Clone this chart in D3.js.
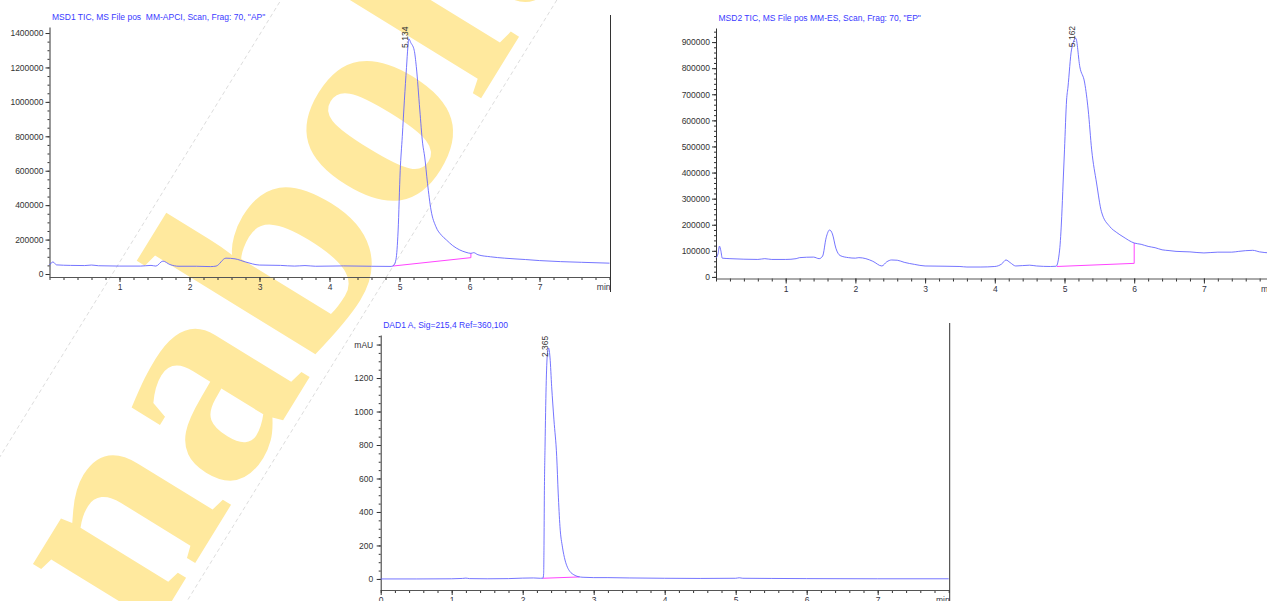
<!DOCTYPE html>
<html>
<head>
<meta charset="utf-8">
<script src="https://cdn.jsdelivr.net/npm/d3@7"></script>
<style>
  body { margin: 0; background: #fff; }
  svg { display: block; }
  text { font-family: "Liberation Sans", Arial, sans-serif; white-space: pre; }
</style>
</head>
<body>
<svg id="chart" width="1267" height="601"></svg>
<script>
// titles
const msd1Title = 'MSD1 TIC, MS File pos  MM-APCI, Scan, Frag: 70, "AP"';
const msd2Title = 'MSD2 TIC, MS File pos MM-ES, Scan, Frag: 70, "EP"';
const dadTitle = "DAD1 A, Sig=215,4 Ref=360,100";

// tick labels
const msd1YTicks = [0, 200000, 400000, 600000, 800000, 1000000, 1200000, 1400000];
const msd2YTicks = [0, 100000, 200000, 300000, 400000, 500000, 600000, 700000, 800000, 900000];
const dadYTicks = [0, 200, 400, 600, 800, 1000, 1200, 1400];
const msXTicks = [1, 2, 3, 4, 5, 6, 7];
const dadXTicks = [0, 1, 2, 3, 4, 5, 6, 7];

// traces [min, signal]
const msd1Trace = [
  [0, 52000], [0.05, 70000], [0.1, 53000], [0.3, 50000], [0.5, 49000], [0.6, 52000],
  [0.7, 48000], [1.0, 46000], [1.3, 46000], [1.45, 50000], [1.52, 46000], [1.62, 75000],
  [1.72, 55000], [1.85, 45000], [2.1, 45000], [2.3, 43000], [2.38, 46000], [2.52, 92000],
  [2.65, 88000], [2.8, 70000], [3.0, 52000], [3.3, 50000], [3.5, 46000], [3.65, 49000],
  [3.8, 45000], [4.2, 47000], [4.6, 45000], [4.88, 44000], [4.92, 52000], [4.95, 85000],
  [4.98, 250000], [5.01, 600000], [5.04, 800000], [5.07, 1010000], [5.10, 1200000],
  [5.12, 1320000], [5.134, 1366000], [5.16, 1345000], [5.21, 1300000], [5.24, 1205000],
  [5.29, 953000], [5.33, 760000], [5.36, 680000], [5.40, 527000], [5.45, 372000],
  [5.52, 275000], [5.60, 225000], [5.67, 198000], [5.76, 165000], [5.86, 140000],
  [5.95, 126000], [6.02, 120000], [6.06, 124000], [6.12, 112000], [6.3, 100000],
  [6.5, 92000], [6.8, 84000], [7.0, 78000], [7.3, 72000], [7.6, 68000], [8.0, 63000]
];
const msd2Trace = [
  [0, 72000], [0.03, 90000], [0.05, 118000], [0.07, 100000], [0.09, 72000], [0.2, 70000],
  [0.4, 68000], [0.6, 67000], [0.7, 70000], [0.8, 67000], [1.0, 67000], [1.15, 70000],
  [1.2, 74000], [1.4, 76000], [1.48, 70000], [1.53, 80000], [1.58, 150000], [1.63, 180000],
  [1.67, 165000], [1.72, 110000], [1.78, 82000], [1.9, 74000], [2.0, 72000], [2.05, 74000],
  [2.15, 70000], [2.25, 60000], [2.38, 42000], [2.45, 58000], [2.52, 65000], [2.6, 64000],
  [2.7, 56000], [2.85, 48000], [3.0, 42000], [3.3, 41000], [3.5, 40000], [3.6, 38000],
  [3.8, 38000], [4.0, 40000], [4.1, 50000], [4.16, 65000], [4.22, 55000], [4.3, 42000],
  [4.5, 45000], [4.6, 42000], [4.8, 40000], [4.88, 41000], [4.93, 103000], [4.96, 231000],
  [4.98, 360000], [5.0, 487000], [5.03, 678000], [5.05, 728000], [5.10, 870000],
  [5.162, 915000], [5.22, 805000], [5.29, 743000], [5.34, 640000], [5.39, 487000],
  [5.46, 360000], [5.53, 250000], [5.65, 193000], [5.75, 170000], [5.84, 154000],
  [6.0, 130000], [6.1, 125000], [6.2, 117000], [6.3, 112000], [6.4, 104000], [6.5, 101000],
  [6.6, 98000], [6.8, 96000], [7.0, 92000], [7.2, 95000], [7.4, 95000], [7.5, 98000],
  [7.7, 102000], [7.8, 96000], [7.95, 92000]
];
const dadTrace = [
  [0, 0], [0.5, 0], [1.0, 1], [1.15, 3], [1.2, 5], [1.25, 2], [1.5, 1], [1.8, 2], [2.0, 5],
  [2.15, 6], [2.25, 4], [2.285, 5], [2.295, 30], [2.30, 200], [2.305, 500], [2.315, 800],
  [2.33, 1150], [2.347, 1340], [2.365, 1379], [2.385, 1320], [2.408, 1148], [2.44, 950],
  [2.479, 730], [2.50, 513], [2.525, 312], [2.56, 190], [2.596, 113], [2.63, 70],
  [2.666, 44], [2.72, 25], [2.78, 14], [2.85, 10], [3.0, 8], [3.2, 8], [3.5, 6], [4.0, 4],
  [4.5, 3], [5.0, 4], [5.05, 7], [5.1, 4], [5.5, 3], [6.0, 2], [7.0, 1], [8.0, 1]
];

// integration baselines (magenta)
const msd1Baseline = [[4.90, 46000], [6.02, 95000], [6.02, 120000]];
const msd2Baseline = [[4.89, 40000], [6.0, 52000], [6.0, 130000]];
const dadBaseline = [[2.28, 4], [2.80, 12]];

// peaks
const msd1Peak = [5.134, 1366000];
const msd2Peak = [5.162, 915000];
const dadPeak = [2.365, 1379];

class Chromatogram {
  constructor(svg, opts) {
    this.svg = svg;
    this.opts = opts;
  }

  initialize() {
    const o = this.opts;
    this.xScale = d3.scaleLinear().domain([0, 8]).range([o.left, o.left + 8 * o.pxPerMin]);
    this.yScale = d3.scaleLinear().domain(o.yDomain).range([o.bottom, o.top]);
    this.g = this.svg.append("g");
  }

  update() {
    const o = this.opts;
    const x = this.xScale, y = this.yScale;
    const g = this.g;

    // title
    g.append("text")
      .attr("x", o.left + 2.5)
      .attr("y", o.top - 7)
      .attr("fill", "#3a3aff")
      .style("font-size", "8.5px")
      .text(o.title);

    // right frame line
    g.append("line")
      .attr("x1", x(8) + 1).attr("x2", x(8) + 1)
      .attr("y1", o.top - 12).attr("y2", o.bottom + 15)
      .attr("stroke", "#333");

    // y axis minor ticks
    g.append("g")
      .attr("transform", `translate(${o.left},0)`)
      .call(d3.axisLeft(y).tickValues(d3.range(0, o.yDomain[1], o.yMinor)).tickSize(2).tickSizeOuter(0).tickFormat(""))
      .call((a) => a.select(".domain").remove())
      .call((a) => a.selectAll("line").attr("stroke", "#333"));

    // y axis
    g.append("g")
      .attr("transform", `translate(${o.left},0)`)
      .call(d3.axisLeft(y).tickValues(o.yTicks).tickSize(4).tickSizeOuter(0).tickPadding(o.yPad)
        .tickFormat((d) => (o.topLabel && d === o.yTicks[o.yTicks.length - 1] ? o.topLabel : d)))
      .call((a) => a.select(".domain").attr("stroke", "#333"))
      .call((a) => a.selectAll("line").attr("stroke", "#333"))
      .call((a) => a.selectAll("text").attr("fill", "#333").style("font-size", "8.5px").attr("font-family", null));

    // x axis minor ticks
    g.append("g")
      .attr("transform", `translate(0,${o.bottom})`)
      .call(d3.axisBottom(x).tickValues(d3.range(0, 8.01, 0.2)).tickSize(3).tickSizeOuter(0).tickFormat(""))
      .call((a) => a.select(".domain").remove())
      .call((a) => a.selectAll("line").attr("stroke", "#333"));

    // x axis
    g.append("g")
      .attr("transform", `translate(0,${o.bottom})`)
      .call(d3.axisBottom(x).tickValues(o.xTicks).tickSize(5).tickSizeOuter(0).tickPadding(2))
      .call((a) => a.select(".domain").attr("stroke", "#555"))
      .call((a) => a.selectAll("line").attr("stroke", "#333"))
      .call((a) => a.selectAll("text").attr("fill", "#334").style("font-size", "8.5px").attr("font-family", null));

    g.append("text")
      .attr("x", x(8) + 1)
      .attr("y", o.bottom + 7)
      .attr("dy", "0.71em")
      .attr("text-anchor", "end")
      .attr("fill", "#334")
      .style("font-size", "8.5px")
      .text("min");

    // trace
    const line = d3.line()
      .x((d) => x(d[0]))
      .y((d) => y(d[1]))
      .curve(d3.curveMonotoneX);

    g.append("path")
      .datum(o.baseline)
      .attr("d", d3.line().x((d) => x(d[0])).y((d) => y(d[1])))
      .attr("fill", "none")
      .attr("stroke", "#ff44ff")
      .attr("stroke-width", 1);

    g.append("path")
      .datum(o.trace)
      .attr("d", line)
      .attr("fill", "none")
      .attr("stroke", "#5c5cff")
      .attr("stroke-width", 0.85);

    // peak retention time label
    const px = x(o.peak[0]), py = y(o.peak[1]);
    g.append("text")
      .attr("transform", `translate(${px - 0.5},${py + 9}) rotate(-90)`)
      .attr("fill", "#333")
      .style("font-size", "8.5px")
      .text(o.peak[0].toFixed(3));
  }
}

const svg = d3.select("#chart");

// watermark behind the charts
const wm = svg.append("g").attr("transform", "translate(146,643) rotate(-58.4)");
wm.append("text")
  .attr("x", 0)
  .attr("y", 0)
  .attr("fill", "#ffe99e")
  .style("font-family", '"Liberation Serif", "DejaVu Serif", serif')
  .style("font-weight", "bold")
  .style("font-size", "300px")
  .text("nabolt");
[-222, 13].forEach((off) => {
  wm.append("line")
    .attr("x1", -900).attr("x2", 1400)
    .attr("y1", off).attr("y2", off)
    .attr("stroke", "#d8d8d8")
    .attr("stroke-width", 0.8)
    .attr("stroke-dasharray", "4,3");
});

const panels = [
  {
    title: msd1Title, trace: msd1Trace, baseline: msd1Baseline, peak: msd1Peak,
    yTicks: msd1YTicks, yMinor: 50000, xTicks: msXTicks,
    left: 49.5, pxPerMin: 70, top: 27, bottom: 277, yDomain: [-17400, 1435000], yPad: 2
  },
  {
    title: msd2Title, trace: msd2Trace, baseline: msd2Baseline, peak: msd2Peak,
    yTicks: msd2YTicks, yMinor: 20000, xTicks: msXTicks,
    left: 716, pxPerMin: 69.7, top: 28, bottom: 278.5, yDomain: [-6000, 954000], yPad: 2
  },
  {
    title: dadTitle, trace: dadTrace, baseline: dadBaseline, peak: dadPeak,
    yTicks: dadYTicks, yMinor: 50, xTicks: dadXTicks, topLabel: "mAU",
    left: 380.7, pxPerMin: 71, top: 335, bottom: 590, yDomain: [-66, 1457], yPad: 3.5
  }
];

panels.forEach((p) => {
  const chart = new Chromatogram(svg, p);
  chart.initialize();
  chart.update();
});
</script>
</body>
</html>
